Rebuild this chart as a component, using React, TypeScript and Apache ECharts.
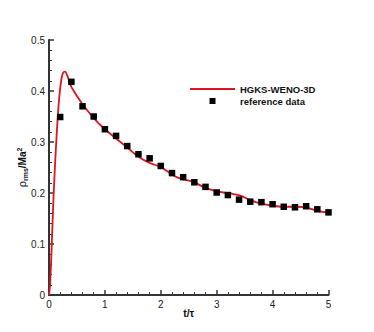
import React, { useEffect, useRef } from "react";
import * as echarts from "echarts";

const lineX = [0, 0.02, 0.05, 0.08, 0.11, 0.14, 0.17, 0.2, 0.23, 0.26, 0.29, 0.32, 0.36, 0.4, 0.5, 0.6, 0.8, 1.0, 1.2, 1.4, 1.6, 1.8, 2.0, 2.16, 2.28, 2.4, 2.58, 2.76, 2.94, 3.12, 3.3, 3.45, 3.6, 3.8, 4.0, 4.2, 4.4, 4.6, 4.8, 5.0];
const lineY = [0, 0.02, 0.1, 0.19, 0.26, 0.32, 0.37, 0.405, 0.428, 0.437, 0.438, 0.432, 0.42, 0.408, 0.39, 0.374, 0.347, 0.325, 0.307, 0.289, 0.271, 0.259, 0.251, 0.239, 0.231, 0.227, 0.222, 0.212, 0.205, 0.201, 0.198, 0.194, 0.186, 0.179, 0.175, 0.173, 0.173, 0.172, 0.165, 0.161];

const refX = [0.2, 0.4, 0.6, 0.8, 1.0, 1.2, 1.4, 1.6, 1.8, 2.0, 2.2, 2.4, 2.6, 2.8, 3.0, 3.2, 3.4, 3.6, 3.8, 4.0, 4.2, 4.4, 4.6, 4.8, 5.0];
const refY = [0.349, 0.418, 0.37, 0.35, 0.325, 0.312, 0.292, 0.276, 0.268, 0.253, 0.239, 0.231, 0.221, 0.212, 0.201, 0.196, 0.187, 0.183, 0.182, 0.178, 0.173, 0.172, 0.174, 0.168, 0.162];

const seriesNames = ["HGKS-WENO-3D", "reference data"];

export default function App() {
  const ref = useRef<HTMLDivElement>(null);
  useEffect(() => {
    if (!ref.current) return;
    const chart = echarts.init(ref.current, null, { renderer: "svg" });
    const font = "Liberation Sans, Arial, sans-serif";
    const axisColor = "#333";
    chart.setOption({
      animation: false,
      textStyle: { fontFamily: font },
      grid: { left: 49, right: 45.5, top: 40, bottom: 37 },
      legend: {
        orient: "vertical",
        left: 190,
        top: 83,
        padding: 0,
        itemWidth: 45,
        itemHeight: 6,
        itemGap: 0,
        itemTextGap: 9,
        selectedMode: false,
        textStyle: { fontFamily: font, fontSize: 9.5, fontWeight: "bold", color: "#111", lineHeight: 12 },
        data: [
          { name: seriesNames[0], icon: "path://M0 0H45V1.8H0Z" },
          { name: seriesNames[1], icon: "path://M0 0H10V10H0Z" },
        ],
      },
      xAxis: {
        type: "value",
        min: 0,
        max: 5,
        interval: 1,
        name: "t/τ",
        nameLocation: "middle",
        nameGap: 12,
        nameMoveOverlap: false,
        nameTextStyle: { fontFamily: font, fontSize: 10.5, fontWeight: "bold", color: "#111" },
        axisLine: { lineStyle: { color: axisColor, width: 2 } },
        axisTick: { inside: true, length: 5, lineStyle: { color: axisColor, width: 1.5 } },
        minorTick: { show: true, splitNumber: 5, length: 3, lineStyle: { color: axisColor, width: 1 } },
        axisLabel: { color: "#222", fontSize: 10, margin: 4 },
        splitLine: { show: false },
      },
      yAxis: {
        type: "value",
        min: 0,
        max: 0.5,
        interval: 0.1,
        name: "{a|ρ}{sub|rms}{b|/Ma}{sup|2}",
        nameLocation: "middle",
        nameGap: 19,
        nameMoveOverlap: false,
        nameTextStyle: {
          color: "#111",
          rich: {
            a: { fontFamily: font, fontSize: 11, color: "#111", lineHeight: 16 },
            b: { fontFamily: font, fontSize: 10, fontWeight: "bold", color: "#111", lineHeight: 16 },
            sub: { fontFamily: font, fontSize: 7, fontWeight: "bold", color: "#111", lineHeight: 16, verticalAlign: "bottom", height: 10 },
            sup: { fontFamily: font, fontSize: 7, fontWeight: "bold", color: "#111", lineHeight: 16, verticalAlign: "top", height: 10 },
          },
        },
        axisLine: { show: true, lineStyle: { color: axisColor, width: 2 } },
        axisTick: { show: true, inside: true, length: 5, lineStyle: { color: axisColor, width: 1.5 } },
        minorTick: { show: true, splitNumber: 5, length: 3, lineStyle: { color: axisColor, width: 1 } },
        axisLabel: { color: "#222", fontSize: 10, margin: 4 },
        splitLine: { show: false },
      },
      series: [
        {
          name: seriesNames[0],
          type: "line",
          data: lineX.map((x, i) => [x, lineY[i]]),
          showSymbol: false,
          symbol: "none",
          smooth: 0.2,
          lineStyle: { color: "#e0141e", width: 1.8 },
          itemStyle: { color: "#e0141e" },
          z: 2,
        },
        {
          name: seriesNames[1],
          type: "scatter",
          data: refX.map((x, i) => [x, refY[i]]),
          symbol: "rect",
          symbolSize: 6.5,
          itemStyle: { color: "#000", opacity: 1 },
          z: 3,
        },
      ],
    });
    return () => chart.dispose();
  }, []);
  return <div ref={ref} style={{ width: 374, height: 332, position: "absolute", left: 0, top: 0 }} />;
}
